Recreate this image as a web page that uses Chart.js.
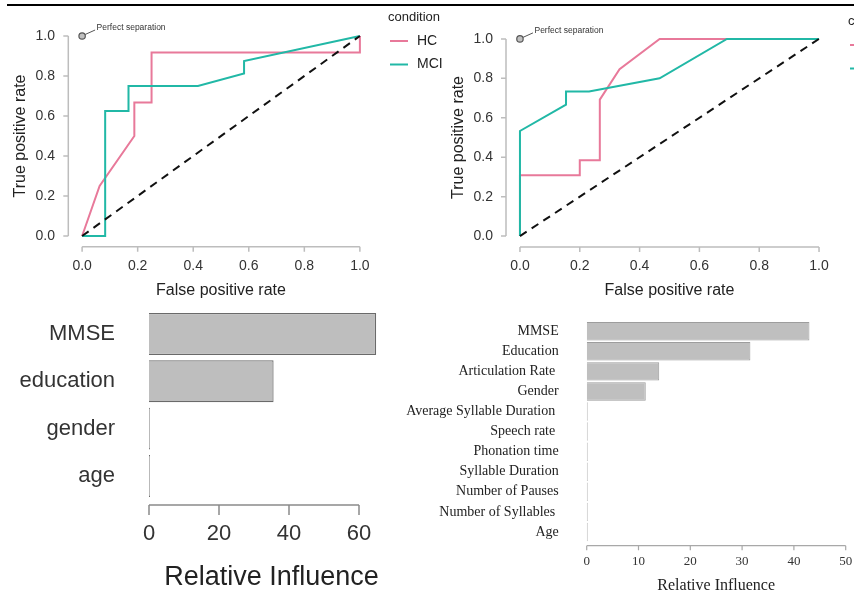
<!DOCTYPE html>
<html>
<head>
<meta charset="utf-8">
<script src="https://cdn.jsdelivr.net/npm/chart.js@4/dist/chart.umd.min.js"></script>
<style>
  html, body { margin: 0; padding: 0; background: #fff; width: 854px; height: 594px; overflow: hidden; }
  canvas { position: absolute; }
  #topRule { position: absolute; left: 7px; top: 4px; width: 847px; height: 2px; background: #000; }
</style>
</head>
<body>
<div id="topRule"></div>
<canvas id="rocA" width="460" height="300" style="left:0;top:0;width:460px;height:300px"></canvas>
<canvas id="rocB" width="424" height="300" style="left:430px;top:0;width:424px;height:300px"></canvas>
<canvas id="barC" width="430" height="294" style="left:0;top:300px;width:430px;height:294px"></canvas>
<canvas id="barD" width="454" height="294" style="left:400px;top:300px;width:454px;height:294px"></canvas>
<script>
// ---------------- data ----------------
const rocTicks = [0, 0.2, 0.4, 0.6, 0.8, 1.0];
const rocTickLabels = ['0.0', '0.2', '0.4', '0.6', '0.8', '1.0'];
const conditions = ['HC', 'MCI'];
const conditionColors = ['#E8799A', '#21B8A6'];

const rocA_HC  = [[0,0],[0.063,0.25],[0.188,0.5],[0.188,0.667],[0.25,0.667],[0.25,0.917],[1,0.917],[1,1]];
const rocA_MCI = [[0,0],[0.083,0],[0.083,0.625],[0.167,0.625],[0.167,0.75],[0.417,0.75],[0.583,0.8125],[0.583,0.875],[1,1]];
const rocB_HC  = [[0,0],[0,0.308],[0.2,0.308],[0.2,0.385],[0.267,0.385],[0.267,0.692],[0.333,0.846],[0.467,1],[1,1]];
const rocB_MCI = [[0,0],[0,0.533],[0.154,0.667],[0.154,0.733],[0.231,0.733],[0.467,0.8],[0.692,1],[1,1]];
const chanceLine = [[0,0],[1,1]];
const perfectPoint = [[0,1]];

const inflC_Labels = ['MMSE', 'education', 'gender', 'age'];
const inflC_Values = [64.9, 35.6, 0, 0];
const inflC_Ticks = [0, 20, 40, 60];

const inflD_Labels = ['MMSE', 'Education', 'Articulation Rate ', 'Gender', 'Average Syllable Duration ', 'Speech rate ',
                      'Phonation time', 'Syllable Duration', 'Number of Pauses', 'Number of Syllables ', 'Age'];
const inflD_Values = [43.0, 31.6, 14.0, 11.4, 0, 0, 0, 0, 0, 0, 0];
const inflD_Ticks = [0, 10, 20, 30, 40, 50];

// ---------------- plugins ----------------
const SANS = '"Liberation Sans", Arial, Helvetica, sans-serif';
const SERIF = '"Liberation Serif", "Times New Roman", serif';
Chart.defaults.font.family = SANS;
Chart.defaults.animation = false;

const rAxes = {
  id: 'rAxes',
  afterDraw(chart, args, o) {
    const {ctx, chartArea: ca, scales} = chart;
    ctx.save();
    ctx.strokeStyle = o.color; ctx.lineWidth = o.width;
    if (o.x) {
      const s = scales.x, y = ca.bottom + o.xOff;
      const px = s.ticks.map(t => s.getPixelForValue(t.value));
      ctx.beginPath();
      ctx.moveTo(px[0], y); ctx.lineTo(px[px.length - 1], y);
      px.forEach(p => { ctx.moveTo(p, y); ctx.lineTo(p, y + o.tickLen); });
      ctx.stroke();
    }
    if (o.y) {
      const s = scales.y, x = ca.left - o.yOff;
      const py = s.ticks.map(t => s.getPixelForValue(t.value));
      ctx.beginPath();
      ctx.moveTo(x, py[0]); ctx.lineTo(x, py[py.length - 1]);
      py.forEach(p => { ctx.moveTo(x, p); ctx.lineTo(x - o.tickLen, p); });
      ctx.stroke();
    }
    ctx.restore();
  }
};

const rLegend = {
  id: 'rLegend',
  afterDraw(chart, args, o) {
    const ctx = chart.ctx;
    ctx.save();
    ctx.textBaseline = 'middle'; ctx.textAlign = 'left'; ctx.fillStyle = '#222';
    ctx.font = '13px ' + SANS;
    ctx.fillText(o.title, o.x, o.y);
    ctx.font = '14px ' + SANS;
    o.labels.forEach((lab, i) => {
      const yy = o.y + o.first + i * o.step;
      ctx.strokeStyle = o.colors[i]; ctx.lineWidth = 2;
      ctx.beginPath(); ctx.moveTo(o.x + 2, yy); ctx.lineTo(o.x + 20, yy); ctx.stroke();
      ctx.fillText(lab, o.x + 29, yy);
    });
    ctx.restore();
  }
};

const perfectLabel = {
  id: 'perfectLabel',
  afterDatasetsDraw(chart, args, o) {
    const pt = chart.getDatasetMeta(o.datasetIndex).data[0];
    if (!pt) return;
    const ctx = chart.ctx;
    ctx.save();
    ctx.strokeStyle = '#555'; ctx.lineWidth = 1;
    ctx.beginPath(); ctx.moveTo(pt.x + 3, pt.y - 1.5); ctx.lineTo(pt.x + 13, pt.y - 6); ctx.stroke();
    ctx.fillStyle = '#333'; ctx.font = '8.5px ' + SANS; ctx.textBaseline = 'middle'; ctx.textAlign = 'left';
    ctx.fillText('Perfect separation', pt.x + 14.5, pt.y - 8);
    ctx.restore();
  }
};

function fixX(h) { return s => { s.height = h; s.paddingLeft = 0; s.paddingRight = 0; }; }
function fixY(w) { return s => { s.width = w; s.paddingTop = 0; s.paddingBottom = 0; }; }

// ---------------- ROC builder ----------------
function rocChart(id, hc, mci, geo) {
  return new Chart(document.getElementById(id), {
    type: 'scatter',
    data: {
      datasets: [
        { data: perfectPoint, showLine: false, pointRadius: 3.2, pointBorderWidth: 1.2,
          pointBorderColor: '#555', pointBackgroundColor: 'rgba(150,150,150,0.6)', order: 0 },
        { data: chanceLine, showLine: true, borderColor: '#111', borderWidth: 2, borderDash: [8, 6],
          pointRadius: 0, order: 1 },
        { label: conditions[1], data: mci, showLine: true, borderColor: conditionColors[1], borderWidth: 2,
          pointRadius: 0, order: 2 },
        { label: conditions[0], data: hc, showLine: true, borderColor: conditionColors[0], borderWidth: 2,
          pointRadius: 0, order: 3 }
      ]
    },
    options: {
      responsive: false, devicePixelRatio: 1, animation: false,
      layout: { padding: { left: 0, top: geo.top, right: geo.right, bottom: 0 } },
      plugins: {
        legend: { display: false }, tooltip: { enabled: false },
        rAxes: { x: true, y: true, xOff: geo.xOff, yOff: geo.yOff, tickLen: 5, color: '#bdbdbd', width: 1.5 },
        rLegend: { title: 'condition', labels: conditions, colors: conditionColors,
                   x: geo.legX, y: geo.legY, first: 24, step: 23.5 },
        perfectLabel: { datasetIndex: 0 }
      },
      scales: {
        x: {
          type: 'linear', min: -0.04, max: 1.04,
          afterBuildTicks: s => { s.ticks = rocTicks.map(v => ({ value: v })); },
          afterFit: fixX(geo.xh),
          ticks: { callback: (v, i) => rocTickLabels[i], font: { size: 14 }, color: '#333',
                   padding: 14, maxRotation: 0, autoSkip: false },
          grid: { display: false, drawTicks: false }, border: { display: false },
          title: { display: true, text: 'False positive rate', font: { size: 16 }, color: '#222', padding: { top: 0, bottom: 0 } }
        },
        y: {
          type: 'linear', min: -0.04, max: 1.04,
          afterBuildTicks: s => { s.ticks = rocTicks.map(v => ({ value: v })); },
          afterFit: fixY(geo.yw),
          ticks: { callback: (v, i) => rocTickLabels[i], font: { size: 14 }, color: '#333',
                   padding: geo.ytp, autoSkip: false },
          grid: { display: false, drawTicks: false }, border: { display: false },
          title: { display: true, text: 'True positive rate', font: { size: 16 }, color: '#222', padding: { top: geo.ytitle, bottom: 0 } }
        }
      }
    },
    plugins: [rAxes, rLegend, perfectLabel]
  });
}

rocChart('rocA', rocA_HC, rocA_MCI,
  { top: 28, right: 89, xh: 56, yw: 71, xOff: 2.7, yOff: 2.7, ytp: 16, ytitle: 11, legX: 388, legY: 17 });
rocChart('rocB', rocB_HC, rocB_MCI,
  { top: 31, right: 23, xh: 56, yw: 78, xOff: 3, yOff: 2, ytp: 15, ytitle: 18.5, legX: 418, legY: 21 });

// ---------------- bar chart C ----------------
new Chart(document.getElementById('barC'), {
  type: 'bar',
  data: {
    labels: inflC_Labels,
    datasets: [{ data: inflC_Values, backgroundColor: '#BEBEBE', borderColor: '#6a6a6a', borderWidth: 1.2,
                 barPercentage: 0.885, categoryPercentage: 1, minBarLength: 1 }]
  },
  options: {
    indexAxis: 'y', responsive: false, devicePixelRatio: 1, animation: false,
    layout: { padding: { left: 0, top: 10.3, right: 36, bottom: 0 } },
    plugins: {
      legend: { display: false }, tooltip: { enabled: false },
      rAxes: { x: true, y: false, xOff: 5.4, tickLen: 10, color: '#8a8a8a', width: 1.5 }
    },
    scales: {
      x: {
        type: 'linear', min: 0, max: 70,
        afterBuildTicks: s => { s.ticks = inflC_Ticks.map(v => ({ value: v })); },
        afterFit: fixX(94.4),
        ticks: { font: { size: 22 }, color: '#333', padding: 21, maxRotation: 0, autoSkip: false },
        grid: { display: false, drawTicks: false }, border: { display: false },
        title: { display: true, text: 'Relative Influence', font: { size: 27 }, color: '#222', padding: { top: 0, bottom: 0 } }
      },
      y: {
        afterFit: fixY(149),
        ticks: { font: { size: 22 }, color: '#333', padding: 34, autoSkip: false },
        grid: { display: false, drawTicks: false }, border: { display: false }
      }
    }
  },
  plugins: [rAxes]
});

// ---------------- bar chart D ----------------
new Chart(document.getElementById('barD'), {
  type: 'bar',
  data: {
    labels: inflD_Labels,
    datasets: [{ data: inflD_Values, backgroundColor: '#BFBFBF', borderColor: '#9d9d9d', borderWidth: 1,
                 barPercentage: 0.92, categoryPercentage: 1, minBarLength: 1 }]
  },
  options: {
    indexAxis: 'y', responsive: false, devicePixelRatio: 1, animation: false,
    layout: { padding: { left: 0, top: 21.2, right: 8.3, bottom: 0 } },
    plugins: {
      legend: { display: false }, tooltip: { enabled: false },
      rAxes: { x: true, y: false, xOff: 3.7, tickLen: 4.5, color: '#a8a8a8', width: 1.2 }
    },
    scales: {
      x: {
        type: 'linear', min: 0, max: 50,
        afterBuildTicks: s => { s.ticks = inflD_Ticks.map(v => ({ value: v })); },
        afterFit: fixX(52),
        ticks: { font: { size: 13, family: SERIF }, color: '#333', padding: 12, maxRotation: 0, autoSkip: false },
        grid: { display: false, drawTicks: false }, border: { display: false },
        title: { display: true, text: 'Relative Influence', font: { size: 16, family: SERIF }, color: '#222', padding: { top: 0, bottom: -1.5 } }
      },
      y: {
        afterFit: fixY(186.7),
        ticks: { font: { size: 14, family: SERIF }, color: '#222', padding: 28, autoSkip: false },
        grid: { display: false, drawTicks: false }, border: { display: false }
      }
    }
  },
  plugins: [rAxes]
});
</script>
</body>
</html>
